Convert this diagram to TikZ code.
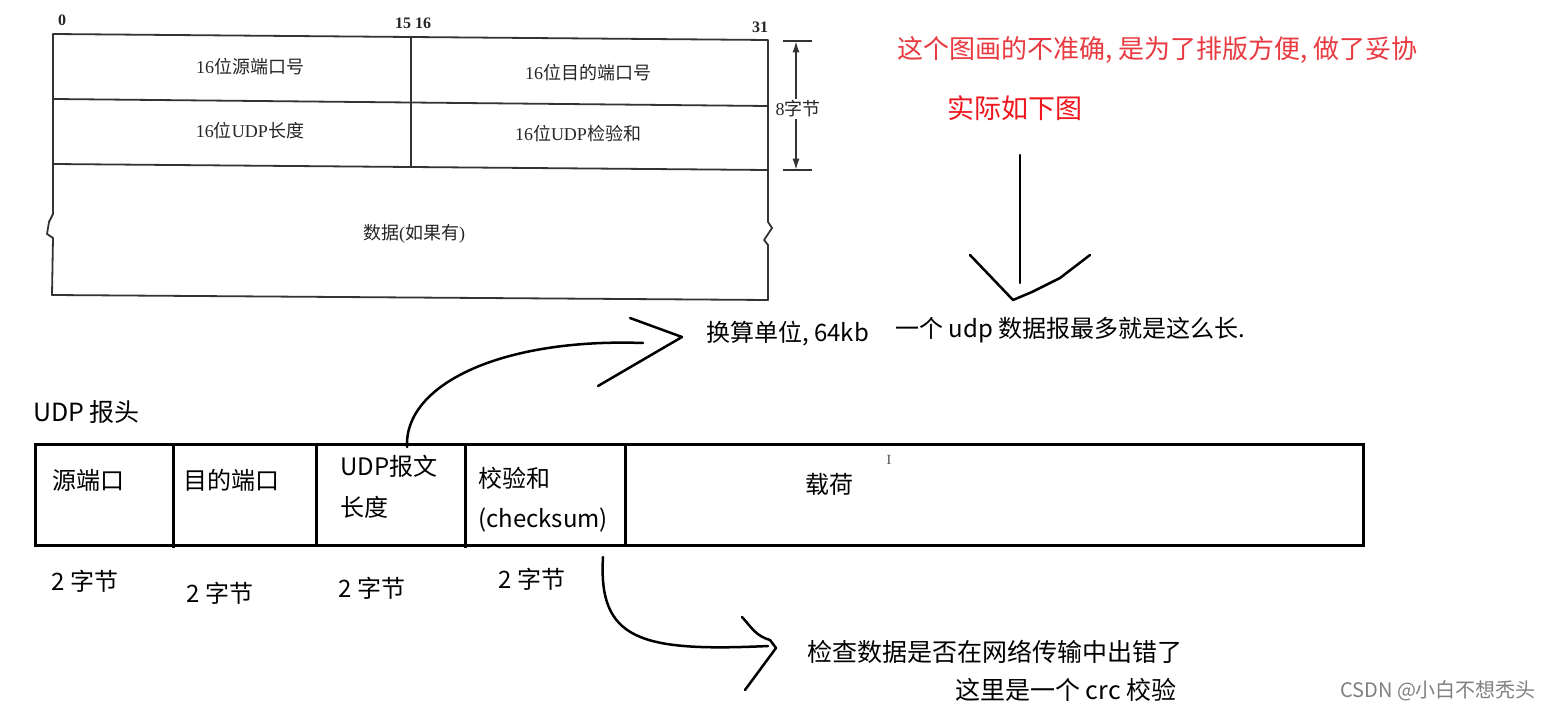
\documentclass[tikz,border=0pt]{standalone}
\usepackage{fontspec}
\setmainfont{Noto Sans CJK SC}
\newfontfamily\serifnum{Liberation Serif}
\usetikzlibrary{arrows.meta,positioning}

\definecolor{notered}{RGB}{232,58,64}
\definecolor{brightred}{RGB}{240,22,30}

\begin{document}
\begin{tikzpicture}[
    x=1pt, y=-1pt,
    font=\fontsize{24}{28}\selectfont,
    old/.style={draw=black!80, line width=1.8pt, line join=round},
    oldtxt/.style={font=\fontsize{18}{20}\selectfont, text=black!85, inner sep=0pt},
    bitno/.style={font=\serifnum\bfseries\fontsize{16}{18}\selectfont, text=black!85, inner sep=0pt},
    cell/.style={draw, line width=3pt},
    lbl/.style={inner sep=0pt, anchor=west, align=left},
    note/.style={inner sep=0pt, anchor=west, text=notered, font=\fontsize{26}{30}\selectfont},
    hand/.style={line width=2.5pt, line cap=round, line join=round},
]
\fill[white] (0,0) rectangle (1548,711);
\useasboundingbox (0,0) rectangle (1548,711);

% old header (book figure)
\coordinate (otl) at (53,34);
\coordinate (otr) at (768,40);
\coordinate (obl) at (52,295);
\coordinate (obr) at (768,300);
\draw[old] (otl) -- (otr) -- (768,222) -- (772,228) -- (764,240) -- (768,245) -- (obr)
    -- (obl) -- (53,238) -- (47,234) -- (49,222) -- (53,214) -- cycle;
\draw[old] (53,99) -- (768,106);
\draw[old] (53,164) -- (768,170);
\draw[old] (411,36) -- (411,167);

\node[bitno] (b0) at (62,20) {0};
\node[bitno] (b15) at (413,23) {15 16};
\node[bitno] (b31) at (760,27) {31};

\node[oldtxt] (srcold) at (250,67) {{\serifnum 16}位源端口号};
\node[oldtxt] (dstold) at (588,73) {{\serifnum 16}位目的端口号};
\node[oldtxt] (lenold) at (250,131) {{\serifnum 16}位{\serifnum UDP}长度};
\node[oldtxt] (sumold) at (578,134) {{\serifnum 16}位{\serifnum UDP}检验和};
\node[oldtxt] (dataold) at (414,234) {数据{\serifnum (}如果有{\serifnum )}};

\coordinate (dimtop) at (796,41);
\coordinate (dimbot) at (796,170);
\draw[old] (783,41) -- (812,41);
\draw[old] (783,170) -- (812,170);
\draw[old, {Latex[length=4mm,width=2.5mm]}-{Latex[length=4mm,width=2.5mm]}] (dimtop) -- (dimbot);
\node[oldtxt, fill=white, inner sep=2pt] (eight) at (798,109) {{\serifnum 8}字节};

% remarks
\node[note] (remark) at (897,50) {这个图画的不准确, 是为了排版方便, 做了妥协};
\node[inner sep=0pt, text=brightred, font=\fontsize{27}{30}\selectfont] (actual) at (1015,108) {实际如下图};

\coordinate (downtop) at (1020,155);
\coordinate (downend) at (1020,283);
\draw[hand] (downtop) -- (downend);
\draw[hand] (970,255) -- (992,278) -- (1013,300) -- (1032,292) -- (1060,278) -- (1090,255);

\node[lbl] (unit) at (706,334) {换算单位, 64kb};
\node[lbl] (maxlen) at (895,330) {一个 udp 数据报最多就是这么长.};

% UDP header as drawn
\node[lbl, font=\fontsize{25}{28}\selectfont] (hdr) at (33,412) {UDP 报头};

\draw[cell] (35,444) rectangle (1363,545);
\draw[cell] (173,444) -- (173,548);
\draw[cell] (316,444) -- (316,545);
\draw[cell] (465,444) -- (465,548);
\draw[cell] (625,444) -- (625,545);

\node[lbl] (src) at (52,480) {源端口};
\node[lbl] (dst) at (183,480) {目的端口};
\node[lbl, font=\fontsize{24}{41}\selectfont] (len) at (340,487) {UDP报文\\长度};
\node[lbl, font=\fontsize{24}{40}\selectfont] (sum) at (478,500) {校验和\\(checksum)};
\node[inner sep=0pt] (load) at (829,484) {载荷};
\node[inner sep=0pt, font=\serifnum\fontsize{14}{16}\selectfont, text=black!70] (cursor) at (889,460) {I};

\node[inner sep=0pt] (srcsz) at (85,581) {2 字节};
\node[inner sep=0pt] (dstsz) at (220,593) {2 字节};
\node[inner sep=0pt] (lensz) at (372,588) {2 字节};
\node[inner sep=0pt] (sumsz) at (532,579) {2 字节};

% hand drawn arrows
\coordinate (lentop) at (407,447);
\coordinate (lenend) at (643,343);
\draw[hand] (lentop) .. controls (404,385) and (500,338) .. (lenend);
\draw[hand] (630,318) -- (682,337) -- (598,386);

\coordinate (sumbot) at (603,557);
\coordinate (sumend) at (768,646);
\draw[hand] (sumbot) .. controls (598,640) and (640,652) .. (sumend);
\draw[hand] (742,617) .. controls (752,628) and (756,636) .. (770,640) -- (776,648) -- (745,690);

\node[lbl, font=\fontsize{25}{28}\selectfont] (check) at (807,652) {检查数据是否在网络传输中出错了};
\node[lbl, font=\fontsize{25}{28}\selectfont] (crc) at (955,690) {这里是一个 crc 校验};

\node[lbl, text=black!50, font=\fontsize{20}{24}\selectfont] (csdn) at (1340,691) {CSDN @小白不想秃头};
\end{tikzpicture}
\end{document}
